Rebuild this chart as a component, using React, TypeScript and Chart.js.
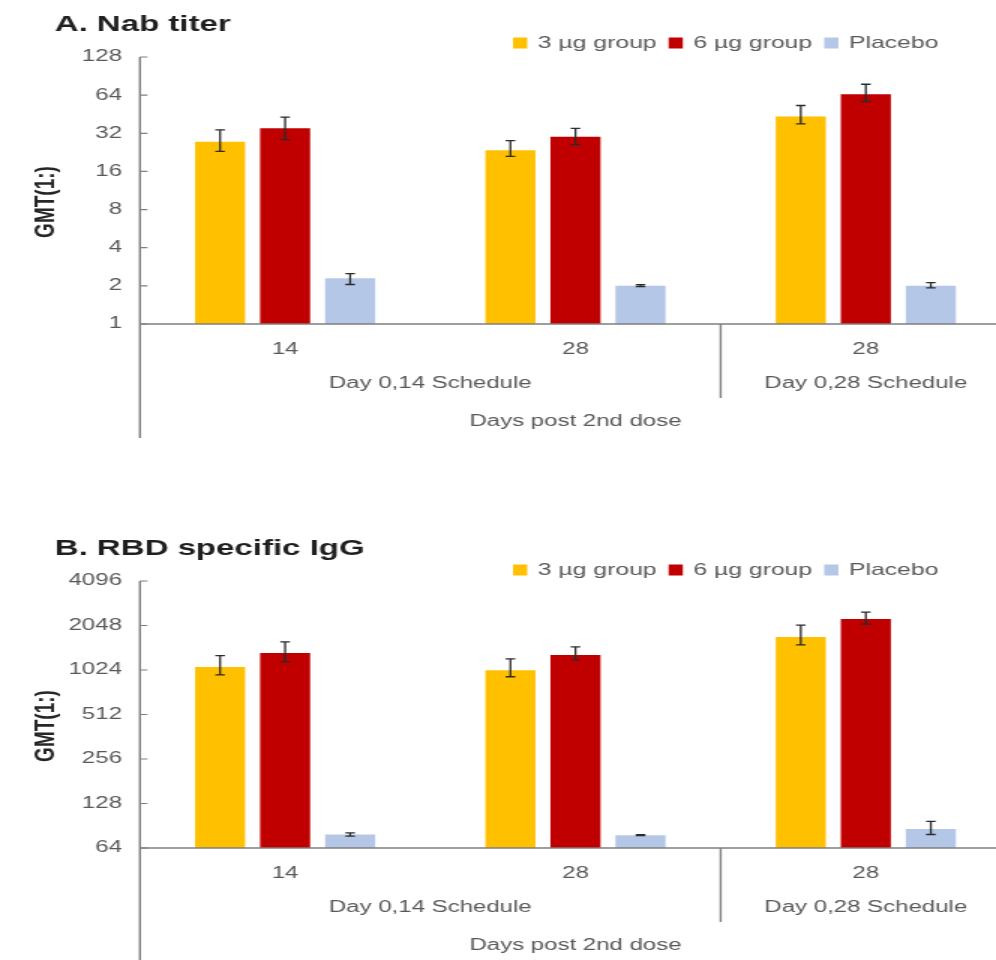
import React, { useEffect, useRef } from 'react';
import { Chart, registerables } from 'chart.js';

Chart.register(...registerables);

// ---------- data ----------
const categories = ['14', '28', '28'];
const scheduleLabels = ['Day 0,14 Schedule', 'Day 0,28 Schedule'];
const xAxisTitle = 'Days post 2nd dose';
const yAxisTitle = 'GMT(1:)';
const seriesNames = ['3 µg group', '6 µg group', 'Placebo'];
const seriesColors = ['#FFC000', '#C00000', '#B4C7E7'];

// Panel A: Nab titer
const nabTitle = 'A. Nab titer';
const nabTicks = [1, 2, 4, 8, 16, 32, 64, 128];
const nab3 = [27.5, 23.5, 43.5];
const nab3Low = [23, 21, 38];
const nab3High = [34, 28, 53];
const nab6 = [35, 30, 65];
const nab6Low = [28.5, 26, 57];
const nab6High = [43, 35, 78];
const nabPlacebo = [2.3, 2.0, 2.0];
const nabPlaceboLow = [2.05, 1.97, 1.93];
const nabPlaceboHigh = [2.5, 2.04, 2.12];

// Panel B: RBD specific IgG
const iggTitle = 'B. RBD specific IgG';
const iggTicks = [64, 128, 256, 512, 1024, 2048, 4096];
const igg3 = [1075, 1020, 1710];
const igg3Low = [950, 922, 1515];
const igg3High = [1280, 1218, 2060];
const igg6 = [1335, 1296, 2270];
const igg6Low = [1162, 1200, 2090];
const igg6High = [1585, 1470, 2520];
const iggPlacebo = [79, 78, 86];
const iggPlaceboLow = [77, 77.5, 79];
const iggPlaceboHigh = [81, 78.7, 97];

// ---------- layout / style ----------
const SX = 1.5; // horizontal stretch of the picture
const CSS_W = 1020;
const W = CSS_W / SX;
const H = 440;
const FONT = '"Liberation Sans", Arial, Helvetica, sans-serif';
const TEXT = '#595959';
const AXIS = '#7f7f7f';

type PanelProps = {
  top: number;
  title: string;
  legendY: number;
  ticks: number[];
  values: number[][];
  lows: number[][];
  highs: number[][];
};

function Panel({ top, title, legendY, ticks, values, lows, highs }: PanelProps) {
  const ref = useRef<HTMLCanvasElement | null>(null);

  useEffect(() => {
    const canvas = ref.current;
    if (!canvas) return;

    const overlay = {
      id: 'overlay',
      afterDatasetsDraw(chart: any) {
        const ctx = chart.ctx;
        const ys = chart.scales.y;
        ctx.save();
        ctx.strokeStyle = '#2b2b2b';
        ctx.lineWidth = 1.3;
        values.forEach((_, i) => {
          const meta = chart.getDatasetMeta(i);
          meta.data.forEach((bar: any, j: number) => {
            const yh = ys.getPixelForValue(highs[i][j]);
            const yl = ys.getPixelForValue(lows[i][j]);
            const x = bar.x;
            const cw = 3.2;
            ctx.beginPath();
            ctx.moveTo(x, yh);
            ctx.lineTo(x, yl);
            ctx.moveTo(x - cw, yh);
            ctx.lineTo(x + cw, yh);
            ctx.moveTo(x - cw, yl);
            ctx.lineTo(x + cw, yl);
            ctx.stroke();
          });
        });
        ctx.restore();
      },
      afterDraw(chart: any) {
        const ctx = chart.ctx;
        const { left, right, top: t, bottom } = chart.chartArea;
        const xs = chart.scales.x;
        const ys = chart.scales.y;
        ctx.save();
        // axes
        ctx.strokeStyle = AXIS;
        ctx.lineWidth = 1.4;
        ctx.beginPath();
        ctx.moveTo(left, t);
        ctx.lineTo(left, bottom + 114);
        ctx.moveTo(left, bottom);
        ctx.lineTo(chart.width, bottom);
        const sep = (xs.getPixelForTick(1) + xs.getPixelForTick(2)) / 2;
        ctx.moveTo(sep, bottom);
        ctx.lineTo(sep, bottom + 74);
        ctx.stroke();
        // y tick marks
        ctx.lineWidth = 1.2;
        ctx.beginPath();
        ticks.forEach((v) => {
          const y = ys.getPixelForValue(v);
          ctx.moveTo(left, y);
          ctx.lineTo(left + 5, y);
        });
        ctx.stroke();

        // group labels
        ctx.fillStyle = TEXT;
        ctx.font = `16px ${FONT}`;
        ctx.textAlign = 'center';
        ctx.textBaseline = 'middle';
        const g1 = (xs.getPixelForTick(0) + xs.getPixelForTick(1)) / 2;
        const g2 = xs.getPixelForTick(2);
        ctx.fillText(scheduleLabels[0], g1, bottom + 60);
        ctx.fillText(scheduleLabels[1], g2, bottom + 60);
        ctx.fillText(xAxisTitle, (left + right) / 2, bottom + 98);

        // y axis title
        ctx.save();
        ctx.translate(31, 202);
        ctx.rotate(-Math.PI / 2);
        ctx.fillStyle = '#262626';
        ctx.font = `bold 19px ${FONT}`;
        ctx.fillText(yAxisTitle, 0, 0);
        ctx.restore();

        // title
        ctx.fillStyle = '#1f1f1f';
        ctx.font = `bold 22px ${FONT}`;
        ctx.textAlign = 'left';
        ctx.fillText(title, 36.5, 25);

        // legend
        ctx.font = `16.5px ${FONT}`;
        let lx = 342;
        seriesNames.forEach((name, i) => {
          ctx.fillStyle = seriesColors[i];
          ctx.fillRect(lx, legendY - 5.5, 9.5, 11);
          lx += 9.5 + 7;
          ctx.fillStyle = TEXT;
          ctx.fillText(name, lx, legendY);
          lx += ctx.measureText(name).width + 8;
        });
        ctx.restore();
      },
    };

    const chart = new Chart(canvas, {
      type: 'bar',
      data: {
        labels: categories,
        datasets: values.map((d, i) => ({
          label: seriesNames[i],
          data: d,
          backgroundColor: seriesColors[i],
          borderWidth: 0,
          barPercentage: 0.77,
          categoryPercentage: 0.672,
        })),
      },
      options: {
        responsive: false,
        animation: false,
        devicePixelRatio: 1,
        layout: { padding: { top: 57, right: 6, left: 0, bottom: 0 } },
        plugins: {
          legend: { display: false },
          title: { display: false },
          tooltip: { enabled: false },
        },
        scales: {
          x: {
            type: 'category',
            offset: true,
            grid: { display: false, drawTicks: false },
            border: { display: false },
            ticks: {
              color: TEXT,
              font: { family: FONT, size: 16 },
              padding: 16,
              maxRotation: 0,
              autoSkip: false,
            },
            afterFit: (s: any) => {
              s.height = H - 324;
            },
          },
          y: {
            type: 'logarithmic',
            min: ticks[0],
            max: ticks[ticks.length - 1],
            grid: { display: false, drawTicks: false },
            border: { display: false },
            afterBuildTicks: (s: any) => {
              s.ticks = ticks.map((v) => ({ value: v }));
            },
            ticks: {
              color: TEXT,
              font: { family: FONT, size: 16 },
              padding: 12,
              autoSkip: false,
              callback: (v: any) => String(v),
            },
            afterFit: (s: any) => {
              s.width = 93.3;
            },
          },
        },
      },
      plugins: [overlay],
    } as any);

    return () => chart.destroy();
  }, []);

  return (
    <canvas
      ref={ref}
      width={W}
      height={H}
      style={{ position: 'absolute', left: 0, top, width: CSS_W + 'px', height: H + 'px' }}
    />
  );
}

export default function App() {
  return (
    <div
      style={{
        position: 'fixed',
        left: 0,
        top: 0,
        width: 996,
        height: 960,
        overflow: 'hidden',
        background: '#ffffff',
      }}
    >
      <Panel
        top={0}
        title={nabTitle}
        legendY={43}
        ticks={nabTicks}
        values={[nab3, nab6, nabPlacebo]}
        lows={[nab3Low, nab6Low, nabPlaceboLow]}
        highs={[nab3High, nab6High, nabPlaceboHigh]}
      />
      <Panel
        top={524}
        title={iggTitle}
        legendY={46}
        ticks={iggTicks}
        values={[igg3, igg6, iggPlacebo]}
        lows={[igg3Low, igg6Low, iggPlaceboLow]}
        highs={[igg3High, igg6High, iggPlaceboHigh]}
      />
    </div>
  );
}
